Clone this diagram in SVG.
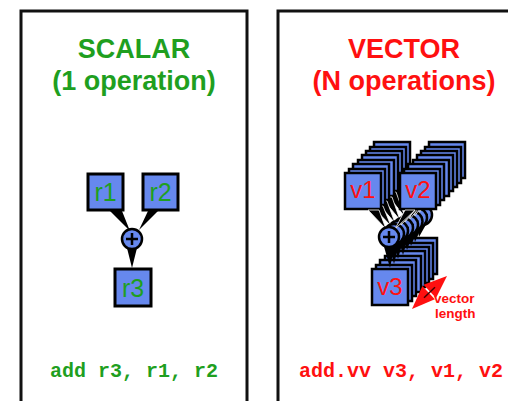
<svg xmlns="http://www.w3.org/2000/svg" xmlns:xlink="http://www.w3.org/1999/xlink" width="508" height="401" viewBox="0 0 508 401">
<style>
.panel{fill:#fff;stroke:#111;stroke-width:3}
.title{font-family:"Liberation Sans",Arial,sans-serif;font-weight:bold;font-size:27px;text-anchor:middle}
.g{fill:#1f9f1f}
.r{fill:#ff1010}
.box{fill:#6688ee;stroke:#000;stroke-width:3}
.vbox{fill:#6688ee;stroke:#000;stroke-width:2.5}
.lbl{font-family:"Liberation Sans",Arial,sans-serif;font-size:25px;text-anchor:middle}
.vlbl{font-family:"Liberation Sans",Arial,sans-serif;font-size:24px;text-anchor:middle}
.wedge{fill:#000}
.vw{fill:#000;stroke:#fff;stroke-width:0.8}
.vd{fill:#000}
.op{fill:#6688ee;stroke:#000;stroke-width:2.5}
.plus{stroke:#000;stroke-width:2.5;fill:none}
.code{font-family:"Liberation Mono","Courier New",monospace;font-weight:bold;font-size:20px}
.small{font-family:"Liberation Sans",Arial,sans-serif;font-weight:bold;font-size:13.5px}
</style>
<defs>
<rect id="vb" width="36" height="36" class="vbox"/>
<g id="opc"><circle r="10" class="op"/><path d="M-6 0H6M0 -6V6" class="plus"/></g>
</defs>
<rect width="508" height="401" fill="#fff"/>

<g id="scalar-panel">
<rect x="21" y="11" width="226" height="400" class="panel"/>
<text x="134" y="58" class="title g">SCALAR</text>
<text x="134" y="90" class="title g">(1 operation)</text>
<text x="50" y="377" class="code g">add r3, r1, r2</text>
</g>

<g id="vector-panel">
<rect x="278" y="11" width="250" height="400" class="panel"/>
<text x="404" y="58" class="title r">VECTOR</text>
<text x="404" y="90" class="title r">(N operations)</text>
<text x="299" y="377" class="code r">add.vv v3, v1, v2</text>
</g>

<g id="connectors">
<polygon points="110,211 122,211 130,231" class="wedge"/>
<polygon points="148,211 158,211 139,230" class="wedge"/>
<polygon points="126,244 138,244 132,268" class="wedge"/>
</g>
<g id="r1"><rect x="88" y="174" width="35" height="36" class="box"/><text x="105.5" y="201" class="lbl g">r1</text></g>
<g id="r2"><rect x="143" y="174" width="35" height="36" class="box"/><text x="160.5" y="201" class="lbl g">r2</text></g>
<g id="plus"><use href="#opc" x="132" y="239"/></g>
<g id="r3"><rect x="115" y="269" width="36" height="37" class="box"/><text x="133" y="297" class="lbl g">r3</text></g>

<g id="vector-stack">
<g id="layer7">
<use href="#vb" x="374" y="142"/><use href="#vb" x="429" y="142"/>
<polygon points="397,179 408,179 419,207" class="vw"/>
<polygon points="434,179 444,179 428,207" class="vw"/>
<polygon points="416,221 428,221 419,237" class="vd"/>
<use href="#opc" x="422" y="215"/>
<use href="#vb" x="401" y="238"/>
</g>
<g id="layer6">
<use href="#vb" x="370" y="147"/><use href="#vb" x="425" y="147"/>
<polygon points="393,184 404,184 414,210" class="vw"/>
<polygon points="430,184 440,184 423,210" class="vw"/>
<polygon points="411,224 423,224 415,242" class="vd"/>
<use href="#opc" x="417" y="218"/>
<use href="#vb" x="397" y="243"/>
</g>
<g id="layer5">
<use href="#vb" x="366" y="151"/><use href="#vb" x="421" y="151"/>
<polygon points="389,188 400,188 409.5,213.5" class="vw"/>
<polygon points="426,188 436,188 418.5,213.5" class="vw"/>
<polygon points="406.5,227.5 418.5,227.5 411,246" class="vd"/>
<use href="#opc" x="412.5" y="221.5"/>
<use href="#vb" x="393" y="247"/>
</g>
<g id="layer4">
<use href="#vb" x="362" y="155"/><use href="#vb" x="417" y="155"/>
<polygon points="385,192 396,192 405,217" class="vw"/>
<polygon points="422,192 432,192 414,217" class="vw"/>
<polygon points="402,231 414,231 407,250" class="vd"/>
<use href="#opc" x="408" y="225"/>
<use href="#vb" x="389" y="251"/>
</g>
<g id="layer3">
<use href="#vb" x="358" y="160"/><use href="#vb" x="413" y="160"/>
<polygon points="381,197 392,197 400,220" class="vw"/>
<polygon points="418,197 428,197 409,220" class="vw"/>
<polygon points="397,234 409,234 403,255" class="vd"/>
<use href="#opc" x="403" y="228"/>
<use href="#vb" x="385" y="256"/>
</g>
<g id="layer2">
<use href="#vb" x="353" y="164"/><use href="#vb" x="408" y="164"/>
<polygon points="376,201 387,201 395,223" class="vw"/>
<polygon points="413,201 423,201 404,223" class="vw"/>
<polygon points="392,237 404,237 398,259" class="vd"/>
<use href="#opc" x="398" y="231"/>
<use href="#vb" x="380" y="260"/>
</g>
<g id="layer1">
<use href="#vb" x="349" y="169"/><use href="#vb" x="404" y="169"/>
<polygon points="372,206 383,206 391,226" class="vw"/>
<polygon points="409,206 419,206 400,226" class="vw"/>
<polygon points="388,240 400,240 394,264" class="vd"/>
<use href="#opc" x="394" y="234"/>
<use href="#vb" x="376" y="265"/>
</g>
<g id="layer0">
<g id="v1"><use href="#vb" x="345" y="173"/><text x="363" y="198" class="vlbl r">v1</text></g>
<g id="v2"><use href="#vb" x="400" y="173"/><text x="418" y="198" class="vlbl r">v2</text></g>
<polygon points="368,210 379,210 386,229" class="vw"/>
<polygon points="405,210 415,210 395,229" class="vw"/>
<polygon points="383,243 395,243 390,268" class="vd"/>
<g id="vplus"><use href="#opc" x="389" y="237"/></g>
<g id="v3"><use href="#vb" x="372" y="269"/><text x="390" y="295" class="vlbl r">v3</text></g>
</g>
</g>

<g id="vector-length">
<polygon points="447,276 423.6,284.8 436,298.0" fill="#ff1010"/>
<polygon points="412,309 422.4,286.1 434.8,299.2" fill="#ff1010"/>
<line x1="424" y1="297.7" x2="435" y2="287.3" stroke="#400" stroke-width="1.5"/>
<text x="434" y="303" class="small r">vector</text>
<text x="435" y="318" class="small r">length</text>
</g>
</svg>
